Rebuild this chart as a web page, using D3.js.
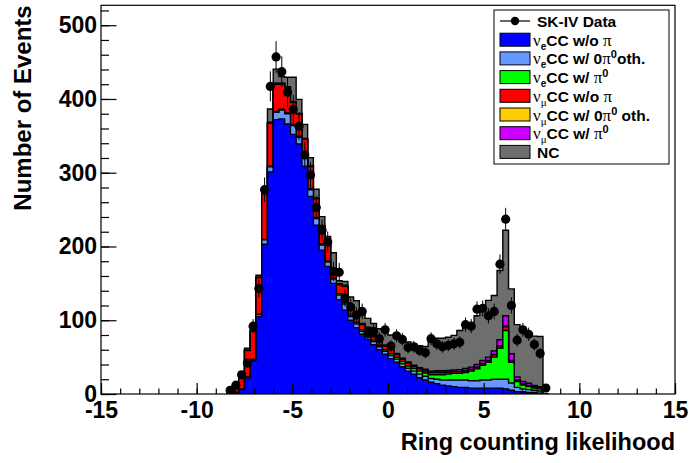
<!DOCTYPE html>
<html>
<head>
<meta charset="utf-8">
<script src="https://cdn.jsdelivr.net/npm/d3@7"></script>
<style>
  body { margin: 0; background: #fff; }
  svg { display: block; }
  text { font-family: "Liberation Sans", Arial, Helvetica, sans-serif; font-weight: bold; }
</style>
</head>
<body>
<svg id="chart" width="691" height="463"></svg>
<script>
// Histogram binning: 0.3-wide bins, listed by centre
const binWidth = 0.3;
const binCenters = [-8.25, -7.95, -7.65, -7.35, -7.05, -6.75, -6.45, -6.15, -5.85, -5.55,
  -5.25, -4.95, -4.65, -4.35, -4.05, -3.75, -3.45, -3.15, -2.85, -2.55,
  -2.25, -1.95, -1.65, -1.35, -1.05, -0.75, -0.45, -0.15, 0.15, 0.45,
  0.75, 1.05, 1.35, 1.65, 1.95, 2.25, 2.55, 2.85, 3.15, 3.45,
  3.75, 4.05, 4.35, 4.65, 4.95, 5.25, 5.55, 5.85, 6.15, 6.45,
  6.75, 7.05, 7.35, 7.65, 7.95, 8.25];

// Observed events per bin
const dataCounts = [5, 12, 26, 42, 92, 143, 277, 417, 457, 437,
  409, 386, 363, 324, 297, 253, 222, 206, 166, 165,
  130, 118, 107, 112, 82, 85, 75, 87, 65, 79,
  74, 63, 64, 59, 56, 75, 68, 64, 66, 68,
  70, 94, 92, 115, 116, 106, 112, 176, 237, 120,
  73, 87, 81, 67, 55, 8];

// Simulated components (stacked bottom to top)
const nueCC0pi = [0, 2, 6, 22, 45, 105, 203, 301, 372, 373,
  366, 352, 339, 309, 268, 229, 195, 173, 150, 128,
  114, 100, 90, 81, 74, 67, 60, 54, 48, 43,
  37, 31, 27, 22, 19, 16, 14, 12, 11, 10,
  9, 9, 8, 8, 8, 8, 8, 8, 7, 5,
  3, 3, 2, 2, 1, 0];
const nueCCother = [0, 0, 0.5, 1, 2, 3, 6, 7, 10, 12,
  14, 12, 9, 11, 9, 9, 7, 6, 6, 6,
  8, 5, 5, 4, 4, 4, 4, 4, 4, 4,
  4, 4, 4, 5, 5, 5, 6, 7, 8, 9,
  10, 10, 10, 10, 11, 11, 12, 12, 13, 10,
  6, 4, 4, 3, 3, 0];
const nueCCpi0 = [0, 0, 0, 0, 0, 0, 0.5, 1, 1, 1,
  1, 1, 1.5, 1.5, 1.5, 1.5, 1.5, 1.5, 1.5, 2,
  2, 2, 2, 2, 2, 2, 2, 2, 2.5, 2.5,
  3, 3, 3.5, 4, 4.5, 5, 6, 7, 8, 9,
  9, 10, 13, 16, 20, 24, 30, 42, 66, 28,
  8, 5, 4, 3, 3, 0];
const numuCC0pi = [3, 9, 20, 36, 38, 50, 62, 58, 37, 34,
  34, 30, 30, 24, 30, 25, 24, 22, 12, 12,
  22, 12, 8, 7, 9, 5, 7, 5, 6, 4,
  3, 4, 3, 3, 3, 3, 3, 3, 2.5, 2,
  2, 2, 2, 2, 2, 2, 3, 3, 5, 2,
  1.5, 1, 1, 1, 1, 0];
const numuCCother = [0, 0, 0, 0, 0, 0, 1, 1, 1, 1,
  1, 1, 0.5, 0.5, 0.5, 0.5, 0.5, 0.5, 0.5, 0.5,
  0.5, 0.5, 0.5, 0.5, 0.5, 0.5, 0.5, 0.5, 0.5, 0.5,
  0.5, 0.5, 0.5, 0.5, 0.5, 0.5, 0.5, 0.5, 0.5, 0.5,
  0.5, 0.5, 0.5, 0.5, 0.5, 0.5, 0.5, 0.5, 1, 0.5,
  0.5, 0.5, 0.5, 0.5, 0.5, 0];
const numuCCpi0 = [0, 0, 0, 0, 0, 0, 0.5, 0.5, 0.5, 0.5,
  0.5, 0.5, 0.5, 0.5, 0.5, 0.5, 0.5, 0.5, 0.5, 1,
  1, 1, 1, 1, 1, 1, 1, 1, 1, 1,
  1, 1, 1, 1, 1.5, 1.5, 2, 2, 2, 2,
  2.5, 3, 3, 3.5, 4, 4.5, 5, 8, 14, 9,
  4, 3.5, 3, 2, 1.5, 0];
const ncEvents = [0.5, 1, 3, 3, 3, 3, 4, 18, 19, 9,
  13, 33, 19, 19, 11, 12, 12, 10, 21, 4,
  5, 11, 20, 16, 12, 16, 14, 20, 18, 23,
  25, 27, 29, 30, 31, 44, 44, 44, 45, 47,
  53, 57, 60, 66, 71, 77, 75, 94, 116, 88,
  71, 72, 69, 67, 68, 0];

const xTicksMajor = [-15, -10, -5, 0, 5, 10, 15];
const yTicksMajor = [0, 100, 200, 300, 400, 500];

const componentKeys = ["nueCC0pi", "nueCCother", "nueCCpi0", "numuCC0pi", "numuCCother", "numuCCpi0", "nc"];
const componentColors = {
  nueCC0pi: "#0000ff", nueCCother: "#6699ff", nueCCpi0: "#00ff00",
  numuCC0pi: "#ff0000", numuCCother: "#ffcc00", numuCCpi0: "#cc00ff", nc: "#6e6e6e"
};

// Plot geometry
const frame = { left: 101, right: 675, top: 5.3, bottom: 394 };
const x = d3.scaleLinear().domain([-15, 15]).range([frame.left, frame.right]);
const y = d3.scaleLinear().domain([0, 527]).range([frame.bottom, frame.top]);

const svg = d3.select("#chart");

svg.append("defs").append("clipPath").attr("id", "plotClip")
  .append("rect")
  .attr("x", frame.left).attr("y", frame.top)
  .attr("width", frame.right - frame.left).attr("height", frame.bottom - frame.top);

const rows = binCenters.map((c, i) => ({
  c,
  nueCC0pi: nueCC0pi[i], nueCCother: nueCCother[i], nueCCpi0: nueCCpi0[i],
  numuCC0pi: numuCC0pi[i], numuCCother: numuCCother[i], numuCCpi0: numuCCpi0[i],
  nc: ncEvents[i]
}));
const stacked = d3.stack().keys(componentKeys)(rows);

// Each cumulative histogram is filled from zero, topmost first
const stepArea = d3.area()
  .x(d => x(d.x))
  .y0(y(0))
  .y1(d => y(d.v));

const plot = svg.append("g").attr("clip-path", "url(#plotClip)");
stacked.slice().reverse().forEach(layer => {
  const pts = layer.flatMap(d => [
    { x: d.data.c - binWidth / 2, v: d[1] },
    { x: d.data.c + binWidth / 2, v: d[1] }
  ]);
  plot.append("path")
    .attr("d", stepArea(pts))
    .attr("fill", componentColors[layer.key])
    .attr("stroke", "#000")
    .attr("stroke-width", 1.4)
    .attr("stroke-linejoin", "miter");
});

// Data points with Poisson error bars
const dataG = plot.append("g");
binCenters.forEach((c, i) => {
  const n = dataCounts[i];
  const err = Math.sqrt(n);
  dataG.append("line")
    .attr("x1", x(c)).attr("x2", x(c))
    .attr("y1", y(n - err)).attr("y2", y(n + err))
    .attr("stroke", "#000").attr("stroke-width", 1);
  dataG.append("circle")
    .attr("cx", x(c)).attr("cy", y(n)).attr("r", 4.6)
    .attr("fill", "#000");
});

// Frame
svg.append("rect")
  .attr("x", frame.left).attr("y", frame.top)
  .attr("width", frame.right - frame.left).attr("height", frame.bottom - frame.top)
  .attr("fill", "none").attr("stroke", "#000").attr("stroke-width", 1.2);

// Axes with inward ticks
const xMinor = d3.range(-15, 16, 1);
const yMinor = d3.range(0, 527, 20);
const plainNumber = d => String(d);

svg.append("g").attr("transform", `translate(0,${frame.bottom})`)
  .call(d3.axisBottom(x).tickValues(xMinor).tickSize(-5.5).tickSizeOuter(0).tickFormat(""))
  .call(g => g.select(".domain").remove());
const xAxis = svg.append("g").attr("transform", `translate(0,${frame.bottom})`)
  .call(d3.axisBottom(x).tickValues(xTicksMajor).tickSize(-11).tickSizeOuter(0).tickPadding(8).tickFormat(plainNumber))
  .call(g => g.select(".domain").remove());

svg.append("g").attr("transform", `translate(${frame.left},0)`)
  .call(d3.axisLeft(y).tickValues(yMinor).tickSize(-8).tickSizeOuter(0).tickFormat(""))
  .call(g => g.select(".domain").remove());
const yAxis = svg.append("g").attr("transform", `translate(${frame.left},0)`)
  .call(d3.axisLeft(y).tickValues(yTicksMajor).tickSize(-15.5).tickSizeOuter(0).tickPadding(4).tickFormat(plainNumber))
  .call(g => g.select(".domain").remove());

svg.selectAll(".tick line").attr("stroke", "#000").attr("stroke-width", 1.2);
[xAxis, yAxis].forEach(a => a.selectAll("text")
  .attr("fill", "#000")
  .style("font-family", '"Liberation Sans", Arial, sans-serif')
  .style("font-weight", "bold")
  .style("font-size", "23px"));

// Axis titles
svg.append("text")
  .attr("x", frame.right).attr("y", 450)
  .attr("text-anchor", "end")
  .style("font-size", "23.5px")
  .text("Ring counting likelihood");
svg.append("text")
  .attr("transform", `translate(31,${frame.top}) rotate(-90)`)
  .attr("text-anchor", "end")
  .style("font-size", "24px")
  .text("Number of Events");

// Legend
const legendRows = [
  { key: "data", parts: [["SK-IV Data", "b"]] },
  { key: "nueCC0pi", parts: [["ν", "g"], ["e", "sub"], ["CC w/o ", "b"], ["π", "g"]] },
  { key: "nueCCother", parts: [["ν", "g"], ["e", "sub"], ["CC w/ 0", "b"], ["π", "g"], ["0", "sup"], ["oth.", "b"]] },
  { key: "nueCCpi0", parts: [["ν", "g"], ["e", "sub"], ["CC w/ ", "b"], ["π", "g"], ["0", "sup"]] },
  { key: "numuCC0pi", parts: [["ν", "g"], ["μ", "subg"], ["CC w/o ", "b"], ["π", "g"]] },
  { key: "numuCCother", parts: [["ν", "g"], ["μ", "subg"], ["CC w/ 0", "b"], ["π", "g"], ["0", "sup"], [" oth.", "b"]] },
  { key: "numuCCpi0", parts: [["ν", "g"], ["μ", "subg"], ["CC w/ ", "b"], ["π", "g"], ["0", "sup"]] },
  { key: "nc", parts: [["NC", "b"]] }
];

const legend = svg.append("g");
legend.append("rect")
  .attr("x", 494).attr("y", 10).attr("width", 175).attr("height", 154)
  .attr("fill", "#fff").attr("stroke", "#000").attr("stroke-width", 1);

const rowY0 = 21, rowStep = 18.7;
legendRows.forEach((row, i) => {
  const cy = rowY0 + i * rowStep;
  if (row.key === "data") {
    legend.append("line").attr("x1", 500).attr("x2", 530).attr("y1", cy).attr("y2", cy)
      .attr("stroke", "#000").attr("stroke-width", 1.2);
    legend.append("circle").attr("cx", 515).attr("cy", cy).attr("r", 4.2).attr("fill", "#000");
  } else {
    legend.append("rect").attr("x", 500).attr("y", cy - 6.5).attr("width", 30).attr("height", 13)
      .attr("fill", componentColors[row.key]).attr("stroke", "#000").attr("stroke-width", 1);
  }
  const t = legend.append("text")
    .attr("x", row.key === "data" || row.key === "nc" ? 537 : 533)
    .attr("y", cy + 6)
    .style("white-space", "pre")
    .style("font-size", "15.5px");
  let shift = 0;
  row.parts.forEach(([str, kind]) => {
    let target = 0;
    const ts = t.append("tspan").text(str);
    if (kind === "g") {
      ts.style("font-family", '"Liberation Serif", "DejaVu Serif", serif').style("font-weight", "normal").style("font-size", "17px");
    } else if (kind === "sub") {
      target = 4;
      ts.style("font-size", "10px").style("font-weight", "bold");
    } else if (kind === "subg") {
      target = 4;
      ts.style("font-family", '"Liberation Serif", "DejaVu Serif", serif').style("font-weight", "normal").style("font-size", "11px");
    } else if (kind === "sup") {
      target = -6;
      ts.style("font-size", "11px");
    }
    if (target !== shift) { ts.attr("dy", target - shift); shift = target; }
  });
});
</script>
</body>
</html>
